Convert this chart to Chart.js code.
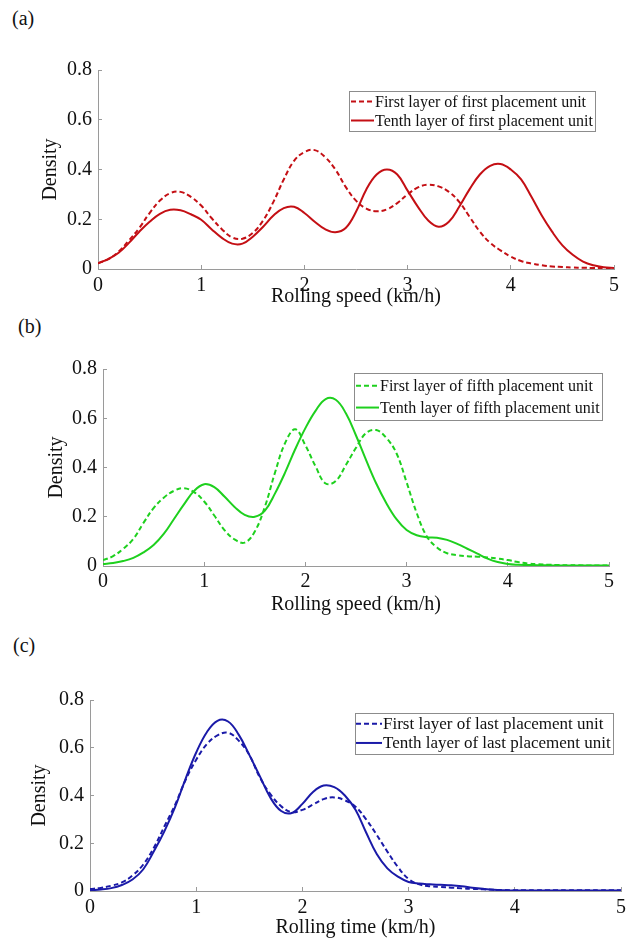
<!DOCTYPE html>
<html>
<head>
<meta charset="utf-8">
<script src="https://cdn.jsdelivr.net/npm/chart.js@4.4.1/dist/chart.umd.min.js"></script>
<style>
  body { margin: 0; background: #fff; width: 635px; height: 944px; position: relative; overflow: hidden;
         font-family: "Liberation Serif", "Times New Roman", serif; }
  .panel-label { position: absolute; font-size: 20px; line-height: 20px; color: #111; }
  canvas { position: absolute; left: 0; }
</style>
</head>
<body>
<div class="panel-label" style="left:12px;top:8px">(a)</div>
<div class="panel-label" style="left:18px;top:316px">(b)</div>
<div class="panel-label" style="left:13px;top:635px">(c)</div>
<canvas id="chart-a" width="635" height="270" style="top:40px"></canvas>
<canvas id="chart-b" width="635" height="280" style="top:340px"></canvas>
<canvas id="chart-c" width="635" height="274" style="top:670px"></canvas>
<script>
/* ── Data (density curves) ── */
const speedX = [0, 0.1, 0.2, 0.3, 0.4, 0.5, 0.6, 0.7, 0.8, 0.9,
                1, 1.1, 1.2, 1.3, 1.4, 1.5, 1.6, 1.7, 1.8, 1.9,
                2, 2.1, 2.2, 2.3, 2.4, 2.5, 2.6, 2.7, 2.8, 2.9,
                3, 3.1, 3.2, 3.3, 3.4, 3.5, 3.6, 3.7, 3.8, 3.9,
                4, 4.1, 4.2, 4.3, 4.4, 4.5, 4.6, 4.7, 4.8, 4.9, 5];

// (a) first placement unit
const firstLayerA = [0.023, 0.04, 0.07, 0.115, 0.165, 0.225, 0.275, 0.305, 0.31, 0.29,
                     0.255, 0.205, 0.16, 0.127, 0.122, 0.145, 0.195, 0.27, 0.36, 0.435,
                     0.47, 0.478, 0.45, 0.40, 0.33, 0.275, 0.243, 0.232, 0.24, 0.265,
                     0.30, 0.328, 0.339, 0.332, 0.31, 0.27, 0.21, 0.15, 0.105, 0.075,
                     0.05, 0.032, 0.022, 0.015, 0.01, 0.008, 0.006, 0.005, 0.004, 0.004, 0.003];
const tenthLayerA = [0.023, 0.04, 0.065, 0.105, 0.15, 0.19, 0.222, 0.238, 0.236, 0.22,
                     0.198, 0.16, 0.125, 0.102, 0.102, 0.13, 0.17, 0.215, 0.245, 0.25,
                     0.225, 0.19, 0.16, 0.148, 0.165, 0.23, 0.32, 0.38, 0.40, 0.38,
                     0.315, 0.25, 0.195, 0.17, 0.19, 0.25, 0.32, 0.38, 0.415, 0.422,
                     0.40, 0.36, 0.29, 0.215, 0.15, 0.095, 0.057, 0.03, 0.015, 0.007, 0.004];

// (b) fifth placement unit
const firstLayerB = [0.024, 0.04, 0.07, 0.11, 0.175, 0.235, 0.277, 0.305, 0.316, 0.30,
                     0.262, 0.205, 0.146, 0.108, 0.095, 0.14, 0.241, 0.38, 0.50, 0.555,
                     0.49, 0.405, 0.335, 0.345, 0.41, 0.48, 0.54, 0.552, 0.52, 0.458,
                     0.34, 0.215, 0.12, 0.075, 0.052, 0.044, 0.04, 0.038, 0.035, 0.03,
                     0.024, 0.016, 0.01, 0.007, 0.005, 0.004, 0.003, 0.003, 0.002, 0.002, 0.002];
const tenthLayerB = [0.008, 0.012, 0.02, 0.033, 0.055, 0.085, 0.13, 0.19, 0.25, 0.305,
                     0.332, 0.32, 0.282, 0.24, 0.208, 0.20, 0.225, 0.295, 0.38, 0.475,
                     0.56, 0.63, 0.678, 0.675, 0.62, 0.53, 0.43, 0.335, 0.255, 0.19,
                     0.146, 0.125, 0.117, 0.115, 0.106, 0.09, 0.07, 0.05, 0.03, 0.016,
                     0.008, 0.005, 0.004, 0.003, 0.003, 0.002, 0.002, 0.002, 0.002, 0.002, 0.002];

// (c) last placement unit
const firstLayerC = [0.008, 0.013, 0.022, 0.036, 0.065, 0.11, 0.18, 0.27, 0.36, 0.465,
                     0.55, 0.615, 0.652, 0.663, 0.63, 0.57, 0.475, 0.405, 0.355, 0.33,
                     0.34, 0.362, 0.385, 0.392, 0.38, 0.353, 0.30, 0.235, 0.165, 0.10,
                     0.05, 0.028, 0.02, 0.017, 0.014, 0.011, 0.009, 0.007, 0.005, 0.004,
                     0.003, 0.003, 0.003, 0.003, 0.003, 0.003, 0.003, 0.003, 0.003, 0.003, 0.003];
const tenthLayerC = [0.003, 0.006, 0.012, 0.025, 0.048, 0.09, 0.165, 0.25, 0.35, 0.47,
                     0.58, 0.665, 0.713, 0.71, 0.655, 0.57, 0.48, 0.39, 0.335, 0.327,
                     0.365, 0.415, 0.442, 0.435, 0.40, 0.34, 0.245, 0.155, 0.095, 0.06,
                     0.038, 0.031, 0.028, 0.026, 0.024, 0.02, 0.014, 0.009, 0.005, 0.003,
                     0.002, 0.002, 0.002, 0.002, 0.002, 0.002, 0.002, 0.002, 0.002, 0.002, 0.002];

const labelsA = ['First layer of first placement unit', 'Tenth layer of first placement unit'];
const labelsB = ['First layer of fifth placement unit', 'Tenth layer of fifth placement unit'];
const labelsC = ['First layer of last placement unit', 'Tenth layer of last placement unit'];

const FONT = '"Liberation Serif", "Times New Roman", serif';
const AXIS_GREY = '#9a9a9a';

/* ── Boxed legend drawn inside the plot, top right ── */
const boxLegend = {
    id: 'boxLegend',
    afterDraw(chart, args, o) {
        const { ctx, chartArea } = chart;
        const sets = chart.data.datasets;
        ctx.save();
        ctx.font = `${o.size}px ${FONT}`;
        const textW = Math.max(...sets.map(d => ctx.measureText(d.label).width));
        const w = o.pad + o.sample + 1 + textW + 2;
        const h = o.rowH * sets.length + o.padY * 2;
        const x = Math.round(chartArea.right - o.right - w);
        const y = Math.round(chartArea.top + o.top);
        ctx.fillStyle = '#fff';
        ctx.fillRect(x, y, w, h);
        ctx.strokeStyle = '#8c8c8c';
        ctx.lineWidth = 1;
        ctx.strokeRect(x + 0.5, y + 0.5, Math.round(w), Math.round(h));
        sets.forEach((d, i) => {
            const cy = y + o.padY + o.rowH * (i + 0.5);
            ctx.beginPath();
            ctx.setLineDash(d.borderDash || []);
            ctx.strokeStyle = d.borderColor;
            ctx.lineWidth = d.borderWidth;
            ctx.moveTo(x + o.pad, cy);
            ctx.lineTo(x + o.pad + o.sample, cy);
            ctx.stroke();
            ctx.setLineDash([]);
            ctx.fillStyle = '#111';
            ctx.textAlign = 'left';
            ctx.textBaseline = 'middle';
            ctx.fillText(d.label, x + o.pad + o.sample + 1, cy + 1);
        });
        ctx.restore();
    }
};

/* ── One density panel ── */
function densityChart(id, first, tenth, names, color, xTitle, g) {
    const pts = arr => speedX.map((x, i) => ({ x, y: arr[i] }));
    return new Chart(document.getElementById(id), {
        type: 'line',
        data: {
            datasets: [
                { label: names[0], data: pts(first), borderColor: color, borderWidth: 2,
                  borderDash: [5, 3], pointRadius: 0, tension: 0.4 },
                { label: names[1], data: pts(tenth), borderColor: color, borderWidth: 2,
                  pointRadius: 0, tension: 0.4 },
            ]
        },
        options: {
            responsive: false,
            animation: false,
            events: [],
            layout: { padding: { top: g.top, right: g.right, left: 0, bottom: 0 } },
            plugins: { legend: { display: false }, tooltip: { enabled: false }, boxLegend: g.legend },
            scales: {
                x: {
                    type: 'linear', min: 0, max: 5,
                    ticks: { stepSize: 1, color: '#111', padding: g.xPad, maxRotation: 0,
                             font: { family: FONT, size: 20 } },
                    grid: { drawOnChartArea: false, tickLength: -4, color: AXIS_GREY },
                    border: { color: AXIS_GREY, width: 1 },
                    title: { display: true, text: xTitle, color: '#111', padding: { top: 0, bottom: g.xTitlePad },
                             font: { family: FONT, size: 20 } },
                    afterFit: s => { s.height = g.xH; }
                },
                y: {
                    min: 0, max: 0.8,
                    ticks: { stepSize: 0.2, color: '#111', padding: 10,
                             font: { family: FONT, size: 20 } },
                    grid: { drawOnChartArea: false, tickLength: -4, color: AXIS_GREY },
                    border: { color: AXIS_GREY, width: 1 },
                    title: { display: true, text: 'Density', color: '#111', padding: { top: g.yTitlePad, bottom: 0 },
                             font: { family: FONT, size: 20 } },
                    afterFit: s => { s.width = g.yW; }
                }
            }
        },
        plugins: [boxLegend]
    });
}

densityChart('chart-a', firstLayerA, tenthLayerA, labelsA, '#c40f14', 'Rolling speed (km/h)', {
    top: 30, right: 21, yW: 98, xH: 41, xPad: 9, xTitlePad: 1, yTitlePad: 39,
    legend: { size: 16, rowH: 19, padY: 1, pad: 2, sample: 23, right: 19, top: 21 }
});
densityChart('chart-b', firstLayerB, tenthLayerB, labelsB, '#1ed01e', 'Rolling speed (km/h)', {
    top: 29, right: 26, yW: 103, xH: 54, xPad: 8, xTitlePad: 3, yTitlePad: 45,
    legend: { size: 16, rowH: 21.7, padY: 2, pad: 2, sample: 23, right: 7, top: 4 }
});
densityChart('chart-c', firstLayerC, tenthLayerC, labelsC, '#1a1aa8', 'Rolling time (km/h)', {
    top: 30, right: 12, yW: 90, xH: 53, xPad: 9, xTitlePad: 4, yTitlePad: 28,
    legend: { size: 17, rowH: 19.3, padY: 1, pad: 1, sample: 26, right: 8, top: 13 }
});
</script>
</body>
</html>
